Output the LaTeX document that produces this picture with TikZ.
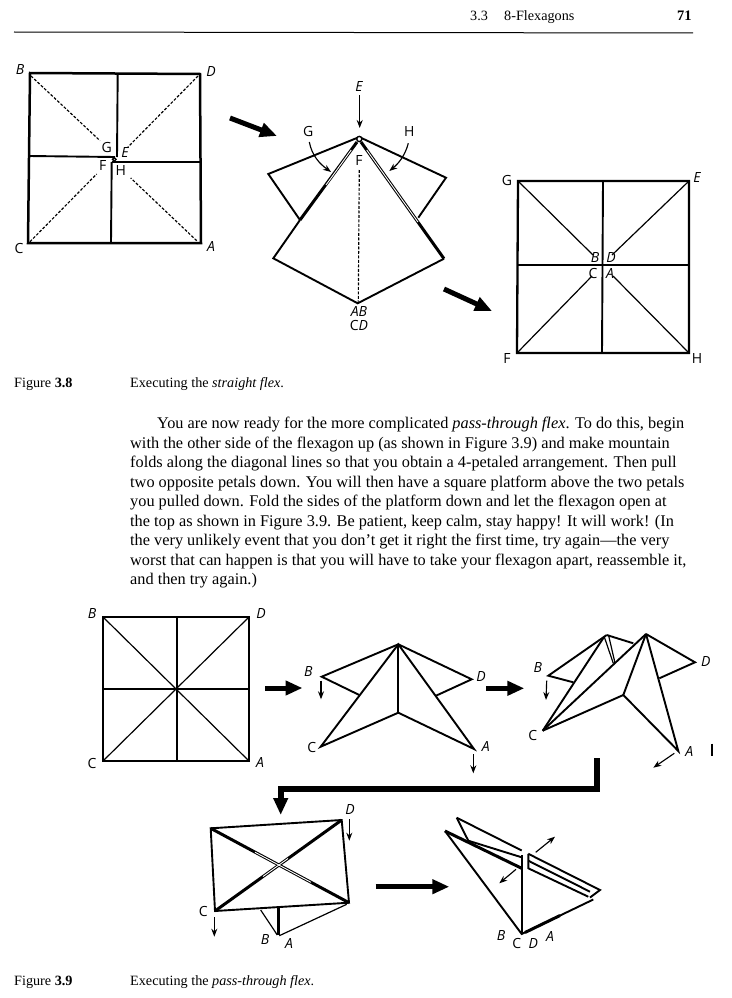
\documentclass[tikz,border=0pt]{standalone}
\usepackage{fontspec}
\setmainfont{Liberation Serif}
\newfontfamily\lblfont{Open Sans}
\usetikzlibrary{arrows.meta}
\tikzset{
	edgeline/.style={line width=1.9pt, line join=miter},
	thickline/.style={line width=3pt},
	thinline/.style={line width=1.2pt},
	gapline/.style={white, line width=0.9pt},
	foldline/.style={line width=1.15pt, dash pattern=on 2.8pt off 1.7pt},
	smallarrow/.style={line width=1.15pt, -{Stealth[length=8pt, width=6pt]}},
	bigarrow/.style={line width=5pt, -{Triangle[length=17pt, width=14pt]}},
	ptlabel/.style={font=\lblfont\itshape\fontsize{14}{13.5}\selectfont, inner sep=0pt, align=center},
	ptup/.style={font=\lblfont\fontsize{14}{13.5}\selectfont, inner sep=0pt, align=center},
	bodyline/.style={font=\fontsize{16.3}{18}\selectfont, anchor=base west, inner sep=0pt},
	capline/.style={font=\fontsize{14.2}{16}\selectfont, anchor=base west, inner sep=0pt},
}
\begin{document}
\begin{tikzpicture}[x=1pt, y=-1pt]
	\useasboundingbox (0, 0) rectangle (731, 998);
	% running head
	\node[capline] (headsec) at (470, 21){3.3};
	\node[capline] (headtitle) at (504, 21){8-Flexagons};
	\node[capline, font=\bfseries\fontsize{14.5}{16}\selectfont] (headpage) at (677, 21){71};
	\coordinate (ruleL) at (14, 32);
	\coordinate (ruleR) at (693, 33);
	\draw[line width=1pt] (ruleL) -- (ruleR);

	% figure 3.8, first square
	\draw[edgeline, line width=2.5pt] (30, 73) -- (200, 74) -- (201, 243) -- (28, 243) -- cycle;
	\draw[edgeline] (117.7, 74) -- (117, 157);
	\draw[edgeline] (29, 156) -- (115, 157);
	\draw[edgeline] (111.7, 162) -- (111, 243);
	\draw[edgeline] (112, 162) -- (200, 162);
	\draw[line width=1.4pt, fill=white] (114.3, 159.4) circle (1.8);
	\draw[foldline] (31, 76) -- (100, 140.7);
	\draw[foldline] (198, 76) -- (128, 147);
	\draw[foldline] (30, 241.7) -- (96.7, 174);
	\draw[foldline] (196.7, 240.7) -- (130.7, 178);
	\node[ptlabel] (b1) at (20, 70){B};
	\node[ptlabel] (d1) at (211, 72){D};
	\node[ptup] (c1) at (19, 248){C};
	\node[ptlabel] (a1) at (211, 247){A};
	\node[ptup] (g1) at (106.7, 147){G};
	\node[ptlabel] (e1) at (125, 153){E};
	\node[ptup] (f1) at (102.7, 166){F};
	\node[ptup] (h1) at (120.7, 171){H};

	\coordinate (go1a) at (230, 118);
	\coordinate (go1b) at (277, 136);
	\draw[bigarrow] (go1a) -- (go1b);

	% figure 3.8, kite
	\draw[edgeline] (359.3, 137) -- (268.3, 174) -- (300, 220);
	\draw[edgeline] (359.3, 137) -- (446, 177.7) -- (418.3, 217.7);
	\draw[edgeline] (300, 220) -- (273.3, 258.3) -- (357.7, 303.3) -- (444, 258.7);
	\draw[thickline] (357, 142) -- (300, 220);
	\draw[thickline] (361, 142) -- (444, 258.7);
	\draw[gapline] (351.2, 150) -- (326, 185);
	\draw[gapline] (366.7, 150) -- (417.9, 222);
	\draw[line width=1.4pt, fill=white] (359.3, 139) circle (2.6);
	\draw[foldline] (359.3, 170) -- (358.3, 301.7);
	\node[ptlabel] (e2) at (359, 87){E};
	\coordinate (e2a) at (359.7, 95);
	\coordinate (e2b) at (359.7, 128);
	\draw[smallarrow] (e2a) -- (e2b);
	\node[ptup, fill=white, inner sep=0.5pt] (f2) at (359, 161){F};
	\node[ptup] (g2) at (308.3, 131.7){G};
	\node[ptup] (h2) at (409.3, 131.7){H};
	\coordinate (g2a) at (309.3, 142);
	\coordinate (g2b) at (331, 172);
	\coordinate (h2a) at (408.3, 143.3);
	\coordinate (h2b) at (389.3, 171);
	\draw[smallarrow] (g2a) .. controls (312, 156) and (320, 164) .. (g2b);
	\draw[smallarrow] (h2a) .. controls (405, 156) and (398, 164) .. (h2b);
	\node[ptlabel] (ab2) at (359, 311.7){AB};
	\node[ptup] (cd2) at (359, 325){C\textit{D}};

	\coordinate (go2a) at (444, 289);
	\coordinate (go2b) at (492, 311);
	\draw[bigarrow] (go2a) -- (go2b);

	% figure 3.8, last square
	\draw[edgeline, line width=2.3pt] (518, 181) -- (689, 181) -- (689, 353) -- (517, 353) -- cycle;
	\draw[edgeline] (603, 181) -- (602, 353);
	\draw[edgeline] (518, 265) -- (689, 265);
	\draw[thinline] (518, 181) -- (593, 255);
	\draw[thinline] (689, 181) -- (612, 255);
	\draw[thinline] (517, 353) -- (592, 276);
	\draw[thinline] (689, 353) -- (613, 276);
	\node[ptup] (g3) at (507, 180){G};
	\node[ptlabel] (e3) at (697, 178){E};
	\node[ptup] (f3) at (507, 358){F};
	\node[ptup] (h3) at (697, 358){H};
	\node[ptlabel] (b3) at (595, 258){B};
	\node[ptlabel] (d3) at (611, 258){D};
	\node[ptup] (c3) at (593, 273){C};
	\node[ptlabel] (a3) at (610, 273){A};

	% caption and text
	\node[capline] (fig8) at (14, 387){Figure \textbf{3.8}};
	\node[capline] (cap8) at (130, 387){Executing the \textit{straight flex}.};
	\node[bodyline] (par1) at (157, 428){You are now ready for the more complicated \textit{pass-through flex}. To do this, begin};
	\node[bodyline] (par2) at (130, 448){with the other side of the flexagon up (as shown in Figure 3.9) and make mountain};
	\node[bodyline] (par3) at (130, 467.5){folds along the diagonal lines so that you obtain a 4-petaled arrangement. Then pull};
	\node[bodyline] (par4) at (130, 487){two opposite petals down. You will then have a square platform above the two petals};
	\node[bodyline] (par5) at (130, 506.5){you pulled down. Fold the sides of the platform down and let the flexagon open at};
	\node[bodyline] (par6) at (130, 526){the top as shown in Figure 3.9. Be patient, keep calm, stay happy! It will work! (In};
	\node[bodyline] (par7) at (130, 545.5){the very unlikely event that you don't get it right the first time, try again---the very};
	\node[bodyline] (par8) at (130, 565){worst that can happen is that you will have to take your flexagon apart, reassemble it,};
	\node[bodyline] (par9) at (130, 584.5){and then try again.)};

	% figure 3.9, square
	\draw[edgeline, line width=2.3pt] (103, 617) -- (249, 617) -- (249, 761) -- (103, 761) -- cycle;
	\draw[edgeline] (177, 617) -- (177, 761);
	\draw[edgeline] (103, 689) -- (249, 689);
	\draw[thinline] (103, 617) -- (249, 761);
	\draw[thinline] (249, 617) -- (103, 761);
	\node[ptlabel] (b4) at (92, 613){B};
	\node[ptlabel] (d4) at (261, 613){D};
	\node[ptup] (c4) at (92, 763){C};
	\node[ptlabel] (a4) at (260, 762){A};
	\coordinate (go3a) at (265, 688);
	\coordinate (go3b) at (302.5, 688);
	\draw[bigarrow] (go3a) -- (go3b);

	% figure 3.9, star
	\draw[edgeline] (398.3, 644.3) -- (321.7, 676.7) -- (359.3, 695);
	\draw[edgeline] (398.3, 644.3) -- (320.7, 746.7) -- (398.3, 712.7) -- (474, 749) -- cycle;
	\draw[edgeline] (398.3, 644.3) -- (398.3, 712.7);
	\draw[edgeline] (398.3, 644.3) -- (471.7, 679.3) -- (436, 695.7);
	\node[ptlabel] (b5) at (308.3, 671){B};
	\node[ptlabel] (d5) at (481, 676){D};
	\node[ptup] (c5) at (311.7, 747.7){C};
	\node[ptlabel] (a5) at (485.7, 746.7){A};
	\coordinate (b5a) at (321, 680.7);
	\coordinate (b5b) at (321, 699.3);
	\draw[smallarrow] (b5a) -- (b5b);
	\coordinate (a5a) at (473.3, 754);
	\coordinate (a5b) at (473.3, 773.3);
	\draw[smallarrow] (a5a) -- (a5b);
	\coordinate (go4a) at (486, 688.3);
	\coordinate (go4b) at (524.3, 688.3);
	\draw[bigarrow] (go4a) -- (go4b);

	% figure 3.9, opening star
	\draw[edgeline] (606.7, 635) -- (548.3, 675.7) -- (573.3, 682.3);
	\draw[edgeline] (604, 637) -- (542.7, 730.7);
	\draw[edgeline] (606.7, 635) -- (633.3, 643.3);
	\draw[thinline] (604, 636) -- (613.3, 663.3);
	\draw[thinline] (608.5, 635) -- (615, 663);
	\draw[edgeline] (542.7, 730.7) -- (646, 634);
	\draw[edgeline] (646, 634) -- (623.3, 695);
	\draw[edgeline] (542.7, 730.7) -- (623.3, 695) -- (678.3, 751) -- (646, 634);
	\draw[edgeline] (646, 634) -- (695, 662.3) -- (659.3, 678.3);
	\node[ptlabel] (b6) at (537.7, 667.3){B};
	\node[ptlabel] (d6) at (705.7, 661.7){D};
	\node[ptup] (c6) at (532.7, 735){C};
	\node[ptlabel] (a6) at (689.3, 751.7){A};
	\coordinate (b6a) at (546.7, 680.7);
	\coordinate (b6b) at (546, 700);
	\draw[smallarrow] (b6a) -- (b6b);
	\coordinate (a6a) at (674.3, 753.3);
	\coordinate (a6b) at (653.3, 767.7);
	\draw[smallarrow] (a6a) -- (a6b);
	\draw[line width=2pt] (712.3, 743.5) -- (712.3, 756);

	% elbow down to the second row
	\coordinate (elbowa) at (596.7, 758);
	\coordinate (elbowb) at (596.7, 789);
	\coordinate (elbowc) at (280.7, 789);
	\coordinate (elbowd) at (280.7, 815);
	\draw[line width=6pt, -{Triangle[length=17pt, width=14pt]}] (elbowa) -- (elbowb) -- (elbowc) -- (elbowd);

	% figure 3.9, open rectangle
	\draw[edgeline] (210.7, 828.3) -- (341.7, 820) -- (349, 902.7) -- (215, 911) -- cycle;
	\draw[thickline] (210.7, 828.3) -- (349, 902.7);
	\draw[thickline] (341.7, 820) -- (215, 911);
	\draw[gapline] (255, 852.2) -- (311, 882.3);
	\draw[gapline] (263, 876.5) -- (288, 858.5);
	\draw[thinline] (260.7, 910) -- (277.3, 935);
	\draw[thickline] (278.3, 908) -- (278.3, 935);
	\draw[thinline] (279.3, 935.7) -- (346.7, 904.3);
	\node[ptlabel] (d7) at (350, 809){D};
	\node[ptup] (c7) at (203.3, 911.7){C};
	\node[ptlabel] (b7) at (265, 939.3){B};
	\node[ptlabel] (a7) at (289, 943.3){A};
	\coordinate (d7a) at (349.3, 819.3);
	\coordinate (d7b) at (349.3, 840.7);
	\draw[smallarrow] (d7a) -- (d7b);
	\coordinate (c7a) at (214.3, 917.3);
	\coordinate (c7b) at (214.3, 936.7);
	\draw[smallarrow] (c7a) -- (c7b);
	\coordinate (go5a) at (375.7, 886.7);
	\coordinate (go5b) at (449.3, 886.7);
	\draw[bigarrow] (go5a) -- (go5b);

	% figure 3.9, last fold
	\draw[edgeline] (445, 831) -- (521.7, 934) -- (593.3, 899.5);
	\draw[thickline] (525, 932.5) -- (560, 915.5);
	\draw[thickline] (445, 831) -- (521.7, 868.3);
	\draw[edgeline] (456.7, 817.7) -- (521.7, 850.5);
	\draw[edgeline] (528.3, 853.8) -- (600, 890) -- (590, 897.5);
	\draw[edgeline] (456.7, 817.7) -- (468.3, 840.7) -- (521.7, 857.3);
	\draw[edgeline] (521.7, 855) -- (521.7, 934);
	\draw[edgeline] (528.3, 853.8) -- (528.3, 868.3) -- (588.3, 896.7);
	\draw[edgeline] (528.3, 860.7) -- (590, 891.7);
	\coordinate (x8a) at (535.7, 852.3);
	\coordinate (x8b) at (555, 836.7);
	\draw[smallarrow] (x8a) -- (x8b);
	\coordinate (x8c) at (516, 869.3);
	\coordinate (x8d) at (499.3, 883.3);
	\draw[smallarrow] (x8c) -- (x8d);
	\node[ptlabel] (b8) at (501, 935){B};
	\node[ptup] (c8) at (516.7, 943.3){C};
	\node[ptlabel] (d8) at (533.3, 943.3){D};
	\node[ptlabel] (a8) at (550, 936){A};

	\node[capline] (fig9) at (14, 985){Figure \textbf{3.9}};
	\node[capline] (cap9) at (130, 985){Executing the \textit{pass-through flex}.};
\end{tikzpicture}
\end{document}
